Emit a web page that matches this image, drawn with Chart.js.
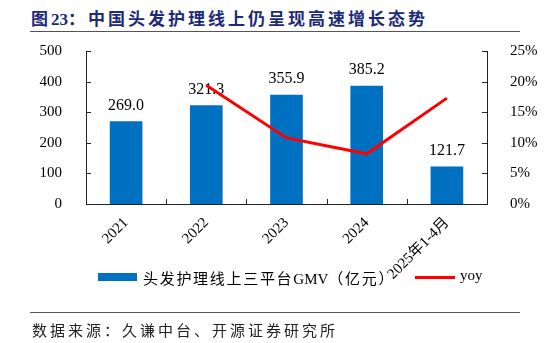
<!DOCTYPE html>
<html>
<head>
<meta charset="utf-8">
<script src="https://cdn.jsdelivr.net/npm/chart.js@4"></script>
<style>
  body { margin: 0; background: #fff; }
  #wrap { position: relative; width: 546px; height: 343px; overflow: hidden; }
  #chart { position: absolute; left: 0; top: 0; }
  .title { position: absolute; left: 31px; top: 5px; font: bold 17px "Liberation Serif", "Noto Sans CJK SC", serif; color: #1c2a78; letter-spacing: 3px; white-space: nowrap; }
  .tight { letter-spacing: 0; }
  .rule { position: absolute; left: 30px; width: 490px; height: 0; border-top: 1.5px solid #555; }
  .source { position: absolute; left: 32px; top: 319px; font: 15px "Noto Sans CJK SC", sans-serif; color: #222; letter-spacing: 3px; white-space: nowrap; }
  .legend { position: absolute; top: 267px; font: 15px "Liberation Serif", "Noto Sans CJK SC", serif; color: #000; white-space: nowrap; }
  .swatch { position: absolute; }
</style>
</head>
<body>
<div id="wrap">
  <div class="title">图<span class="tight">23</span>：中国头发护理线上仍呈现高速增长态势</div>
  <div class="rule" style="top:31px"></div>
  <canvas id="chart" width="546" height="343"></canvas>
  <div class="swatch" style="left:98px; top:273px; width:39px; height:8px; background:#0070C0"></div>
  <div class="legend" style="left:143px; letter-spacing:1.7px">头发护理线上三平台<span class="tight">GMV</span>（亿元）</div>
  <div class="swatch" style="left:415px; top:276px; width:40px; height:3px; background:#FF0000"></div>
  <div class="legend" style="left:460px">yoy</div>
  <div class="rule" style="top:312px"></div>
  <div class="source">数据来源：久谦中台、开源证券研究所</div>
</div>
<script>
const categories = ['2021', '2022', '2023', '2024', '2025年1-4月'];
const gmv = [269.0, 321.3, 355.9, 385.2, 121.7];
const yoy = [null, 19.4, 10.8, 8.2, 17.3];
const leftTicks = [0, 100, 200, 300, 400, 500];
const rightTicks = [0, 5, 10, 15, 20, 25];

const serif = '"Liberation Serif", "Noto Sans CJK SC", serif';

// inward tick marks + bar value labels
const decor = {
  id: 'decor',
  afterDatasetDraw(chart, args) {
    if (args.index !== 0) return;
    const ctx = chart.ctx;
    ctx.save();
    ctx.font = '16px ' + serif;
    ctx.fillStyle = '#000';
    ctx.textAlign = 'center';
    ctx.textBaseline = 'alphabetic';
    args.meta.data.forEach((bar, i) => {
      ctx.fillText(gmv[i].toFixed(1), bar.x, bar.y - 12);
    });
    ctx.restore();
  },
  afterDraw(chart) {
    const ctx = chart.ctx;
    const a = chart.chartArea;
    const y = chart.scales.y, y1 = chart.scales.y1;
    ctx.save();
    ctx.strokeStyle = '#222';
    ctx.lineWidth = 1;
    ctx.beginPath();
    leftTicks.forEach(v => {
      const p = Math.round(y.getPixelForValue(v)) + 0.5;
      ctx.moveTo(a.left, p); ctx.lineTo(a.left + 5, p);
    });
    rightTicks.forEach(v => {
      const p = Math.round(y1.getPixelForValue(v)) + 0.5;
      ctx.moveTo(a.right, p); ctx.lineTo(a.right - 5, p);
    });
    const step = (a.right - a.left) / categories.length;
    for (let i = 1; i < categories.length; i++) {
      const p = Math.round(a.left + step * i) + 0.5;
      ctx.moveTo(p, a.bottom); ctx.lineTo(p, a.bottom - 5);
    }
    ctx.stroke();
    ctx.restore();
  }
};

new Chart(document.getElementById('chart'), {
  data: {
    labels: categories,
    datasets: [
      {
        type: 'bar',
        label: '头发护理线上三平台GMV（亿元）',
        data: gmv,
        backgroundColor: '#0070C0',
        barThickness: 32,
        yAxisID: 'y',
        order: 1
      },
      {
        type: 'line',
        label: 'yoy',
        data: yoy,
        borderColor: '#FF0000',
        borderWidth: 3,
        pointRadius: 0,
        tension: 0,
        yAxisID: 'y1',
        order: 0
      }
    ]
  },
  options: {
    responsive: false,
    animation: false,
    layout: { padding: { top: 51, left: 0, right: 0, bottom: 0 } },
    plugins: { legend: { display: false }, tooltip: { enabled: false } },
    scales: {
      x: {
        grid: { display: false },
        border: { color: '#222' },
        ticks: {
          color: '#000', font: { family: serif, size: 15 },
          maxRotation: 45, minRotation: 45, padding: 2
        },
        afterFit(s) { s.height = 139; }
      },
      y: {
        position: 'left',
        min: 0, max: 500,
        grid: { display: false },
        border: { color: '#222' },
        ticks: { stepSize: 100, color: '#000', font: { family: serif, size: 15 }, padding: 16 },
        afterFit(s) { s.width = 86; }
      },
      y1: {
        position: 'right',
        min: 0, max: 25,
        grid: { display: false },
        border: { color: '#222' },
        ticks: {
          stepSize: 5, color: '#000', font: { family: serif, size: 15 }, padding: 15,
          callback: v => v + '%'
        },
        afterFit(s) { s.width = 59; }
      }
    }
  },
  plugins: [decor]
});
</script>
</body>
</html>
